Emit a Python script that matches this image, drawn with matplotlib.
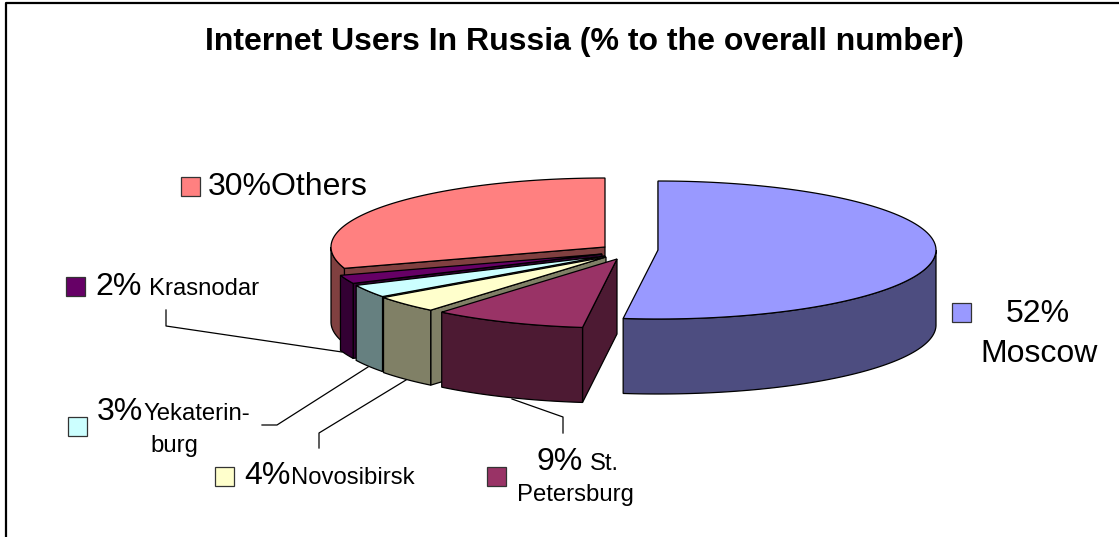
import matplotlib
matplotlib.use("Agg")
import matplotlib.pyplot as plt
import numpy as np
from matplotlib.patches import Polygon, Rectangle

plt.rcParams["font.family"] = ["Liberation Sans", "DejaVu Sans"]

cities = ["Moscow", "St. Petersburg", "Novosibirsk", "Yekaterinburg", "Krasnodar", "Others"]
shares = [52, 9, 4, 3, 2, 30]
top_colors = ["#9999FF", "#993366", "#FFFFCC", "#CCFFFF", "#660066", "#FF8080"]
side_colors = ["#4D4D80", "#4D1A33", "#808066", "#668080", "#330033", "#804040"]

# apex of every exploded slice, in pixels
apex_x = [658, 617, 606, 605, 602, 605]
apex_y = [250, 259, 257, 256, 254, 247]
radius_x = [278, 275, 275, 275, 275, 274]

RY = 69
DEPTH = 75

fig = plt.figure(figsize=(11.19, 5.37), dpi=100)
ax = fig.add_axes([0, 0, 1, 1])
ax.set_xlim(0, 1119)
ax.set_ylim(537, 0)
ax.axis("off")

# chart frame, only the top and left sides fit on the canvas
ax.plot([6, 6, 1119], [537, 3, 3], color="black", lw=1.6, zorder=1)


def arc(cx, cy, rx, start, stop):
    # angles run clockwise from twelve o'clock
    t = np.radians(np.linspace(start, stop, 120))
    return np.column_stack([cx + rx * np.sin(t), cy - RY * np.cos(t)])


def draw_slice(cx, cy, rx, start, stop, top, side, z):
    shift = np.array([0, DEPTH])
    apex = np.array([cx, cy])
    outer = arc(cx, cy, rx, start, stop)

    # cut face on the leading edge, the other one stays hidden
    end = outer[0]
    ax.add_patch(Polygon([apex, end, end + shift, apex + shift], fc=side, ec="black", lw=0.9, zorder=z))

    # only the near part of the rim can be seen
    a, b = max(start, 90), min(stop, 270)
    if a < b:
        rim = arc(cx, cy, rx, a, b)
        ax.add_patch(Polygon(np.vstack([rim, (rim + shift)[::-1]]), fc=side, ec="black", lw=0.9, zorder=z))

    ax.add_patch(Polygon(np.vstack([apex, outer]), fc=top, ec="black", lw=0.9, zorder=z))


edges = np.cumsum([0] + shares) / sum(shares) * 360
draw_order = [5, 4, 3, 2, 1, 0]
for z, i in enumerate(draw_order, start=2):
    draw_slice(apex_x[i], apex_y[i], radius_x[i], edges[i], edges[i + 1], top_colors[i], side_colors[i], z)

BIG = 23
SMALL = 17.2


def label(x, y, text, size=BIG, ha="left"):
    ax.text(x, y, text, fontsize=size, ha=ha, va="baseline", color="black", zorder=20)


def key(x, y, color):
    ax.add_patch(Rectangle((x, y), 19, 19, fc=color, ec="#333333", lw=0.9, zorder=20))


ax.text(584, 50, "Internet Users In Russia (% to the overall number)", fontsize=23,
        fontweight="bold", ha="center", va="baseline", color="black")

key(181, 177, top_colors[5])
label(208, 195, f"{shares[5]}%{cities[5]}")

key(66, 277, top_colors[4])
label(95, 295, f"{shares[4]}%")
label(149, 295, cities[4], SMALL)

key(68, 417, top_colors[3])
label(97, 420, f"{shares[3]}%")
label(143, 420, "Yekaterin-", SMALL)
label(174, 452, "burg", SMALL, ha="center")

key(215, 467, top_colors[2])
label(244, 484, f"{shares[2]}%")
label(291, 484, cities[2], SMALL)

key(487, 467, top_colors[1])
label(537, 470, f"{shares[1]}%")
label(590, 470, "St.", SMALL)
label(575, 501, "Petersburg", SMALL, ha="center")

key(952, 303, top_colors[0])
label(1038, 322, f"{shares[0]}%", ha="center")
label(1039, 362, cities[0], ha="center")

# leader lines from the labels to their slices
leaders = [
    ([166, 166, 342], [310, 326, 352]),
    ([262, 277, 368], [425, 425, 367]),
    ([319, 319, 406], [448, 433, 380]),
    ([563, 563, 512], [433, 417, 399]),
]
for xs, ys in leaders:
    ax.plot(xs, ys, color="black", lw=0.9, zorder=1.5)

fig.savefig("out.png", dpi=100)
